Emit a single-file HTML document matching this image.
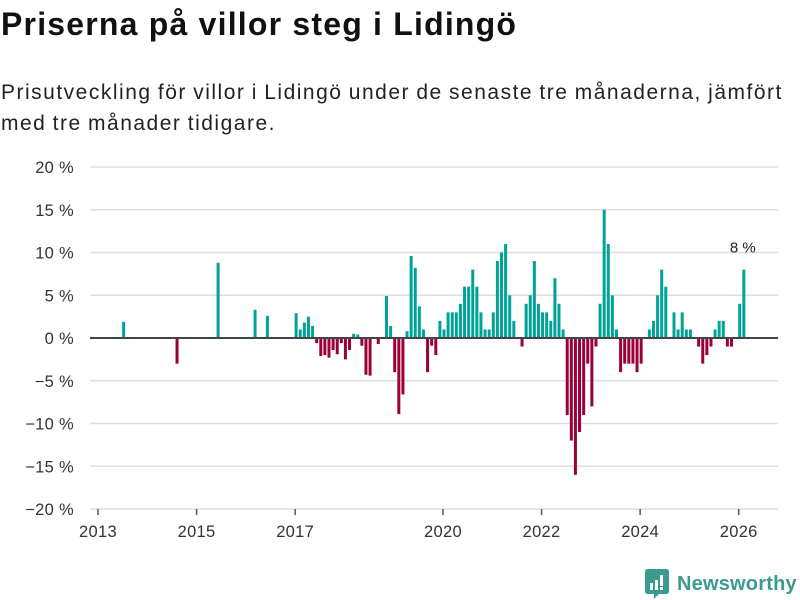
<!DOCTYPE html>
<html><head><meta charset="utf-8"><style>
body{margin:0;width:800px;height:600px;background:#fff;font-family:"Liberation Sans","DejaVu Sans",sans-serif;overflow:hidden;position:relative}
h1{position:absolute;left:1px;top:6px;margin:0;font-size:32px;font-weight:bold;color:#111;letter-spacing:1.2px;white-space:nowrap}
p.sub{position:absolute;left:1px;top:77px;margin:0;font-size:21px;line-height:31px;color:#222;width:800px;letter-spacing:1.5px;word-spacing:-1px}
svg{position:absolute;left:0;top:0}
.logo{position:absolute;left:645px;top:569px;display:flex;align-items:center}
.logo span{font-size:20px;font-weight:bold;color:#3a9a8f;margin-left:8px;letter-spacing:0.2px}
</style></head><body>
<h1>Priserna på villor steg i Lidingö</h1>
<p class="sub">Prisutveckling för villor i Lidingö under de senaste tre månaderna, jämfört med tre månader tidigare.</p>
<svg id="chart" width="800" height="600"></svg>
<div class="logo">
<svg width="24" height="30" style="position:static"><path d="M0 3 Q0 0 3 0 H21 Q24 0 24 3 V22 Q24 25 21 25 H14 L9 30 V25 H3 Q0 25 0 22Z" fill="#3a9a8f"/><rect x="5" y="14" width="3" height="7" fill="#fff"/><rect x="10" y="11" width="3" height="10" fill="#fff"/><rect x="15" y="6" width="3" height="11" fill="#fff"/><rect x="15" y="18" width="3" height="3" fill="#fff"/></svg>
<span>Newsworthy</span></div>
<script>
const startYear = 2013;
const values = [
0,0,0,0,0,0,1.9,0,0,0,0,0,
0,0,0,0,0,0,0,-3,0,0,0,0,
0,0,0,0,0,8.8,0,0,0,0,0,0,
0,0,3.3,0,0,2.6,0,0,0,0,0,0,
2.9,1.0,1.8,2.5,1.4,-0.6,-2.1,-2.0,-2.3,-1.4,-1.9,-0.6,
-2.5,-1.4,0.5,0.4,-0.9,-4.3,-4.4,0,-0.7,0,4.9,1.4,
-4.0,-8.9,-6.6,0.8,9.6,8.2,3.7,1.0,-4.0,-0.9,-2.0,2.0,
1.0,3.0,3.0,3.0,4.0,6.0,6.0,8.0,6.0,3.0,1.0,1.0,
3.0,9.0,10.0,11.0,5.0,2.0,0,-1.0,4.0,5.0,9.0,4.0,
3.0,3.0,2.0,7.0,4.0,1.0,-9.0,-12.0,-16.0,-11.0,-9.0,-3.0,
-8.0,-1.0,4.0,15.0,11.0,5.0,1.0,-4.0,-3.0,-3.0,-3.0,-4.0,
-3.0,0,1.0,2.0,5.0,8.0,6.0,0,3.0,1.0,3.0,1.0,
1.0,0,-1.0,-3.0,-2.0,-1.0,1.0,2.0,2.0,-1.0,-1.0,0,
4.0,8.0];
const yTicks = [20,15,10,5,0,-5,-10,-15,-20];
const yTickLabels = ["20 %","15 %","10 %","5 %","0 %","\u22125 %","\u221210 %","\u221215 %","\u221220 %"];
const xTicks = [2013,2015,2017,2020,2022,2024,2026];
const lastLabel = "8 %";

const NS="http://www.w3.org/2000/svg";
const svg=document.getElementById('chart');
const xs=t=>98+(t-2013)*(443-98)/7;
const ys=v=>338-v*(171/20);
function el(tag,attrs,txt){const e=document.createElementNS(NS,tag);for(const k in attrs)e.setAttribute(k,attrs[k]);if(txt!==undefined)e.textContent=txt;svg.appendChild(e);return e;}
yTicks.forEach((v,i)=>{
  if(v!==0){const g=el('line',{x1:90,x2:778,y1:ys(v),y2:ys(v),stroke:'#dedede','stroke-width':1.5});
  
  }
  const t=el('text',{x:74,y:ys(v)+6,'text-anchor':'end','font-size':16.5,fill:'#333','letter-spacing':0.3},yTickLabels[i]);
  
  
});
xTicks.forEach(y=>{
  const l=el('line',{x1:xs(y),x2:xs(y),y1:509,y2:515,stroke:'#555','stroke-width':1.5});
  
  
  const t=el('text',{x:xs(y),y:537,'text-anchor':'middle','font-size':16.5,fill:'#333','letter-spacing':0.3},y);
  
  
});
values.forEach((v,i)=>{
  if(v===0)return;
  const t=startYear+i/12;
  const x=xs(t)-0.5;
  const r=el('rect',{x:x,y:Math.min(ys(v),ys(0)),width:3,height:Math.abs(ys(v)-ys(0)),fill:v>0?'#00a398':'#9b0039'});
  
  
});
const z=el('line',{x1:90,x2:778,y1:ys(0),y2:ys(0),stroke:'#444','stroke-width':2});


const li=values.length-1;
const lb=el('text',{x:xs(startYear+li/12),y:ys(values[li])-17,'text-anchor':'middle','font-size':15,fill:'#222'},lastLabel);


</script>
</body></html>
